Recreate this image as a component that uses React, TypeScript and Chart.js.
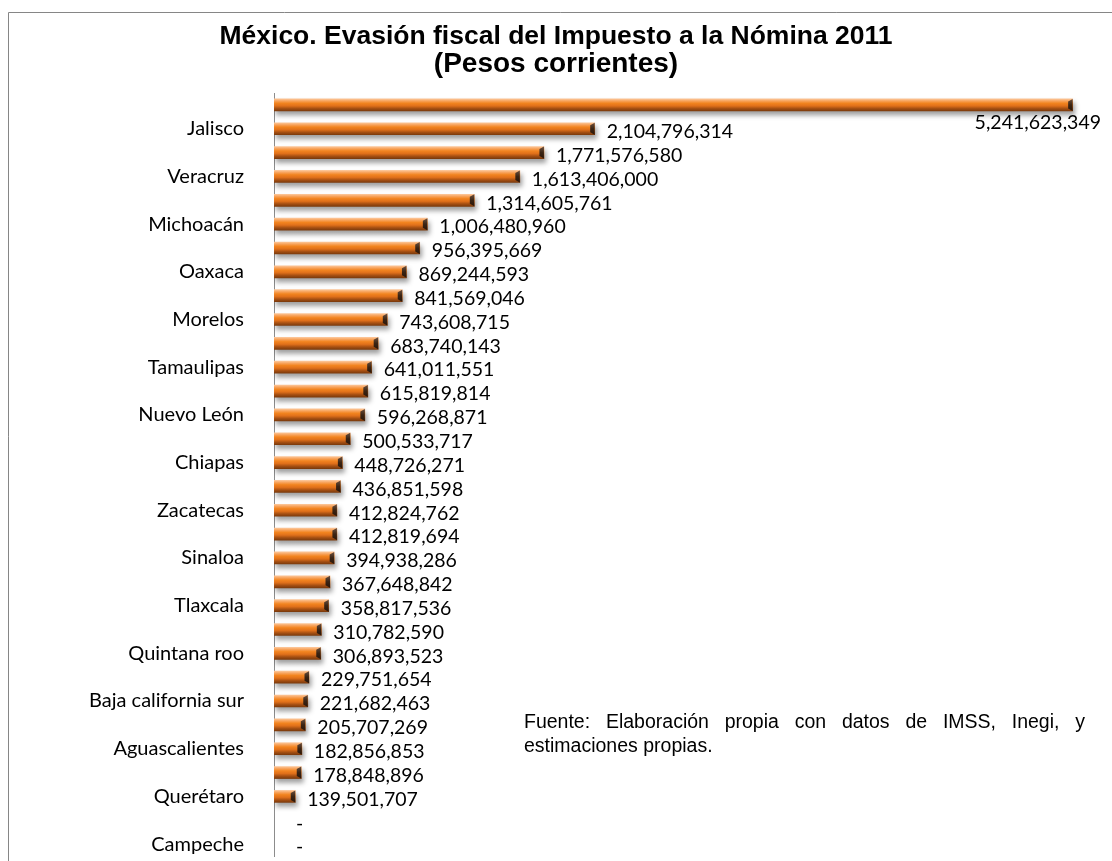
import React, { useEffect, useRef } from 'react';
import { Chart, registerables } from 'chart.js';

Chart.register(...registerables);

const TITLE_LINES = ['México. Evasión fiscal del Impuesto a la Nómina 2011', '(Pesos corrientes)'];
const SOURCE_LINES = ['Fuente: Elaboración propia con datos de IMSS, Inegi, y', 'estimaciones propias.'];

// Only every other state name is printed on the axis in the original.
const states = [
  '', 'Jalisco', '', 'Veracruz', '', 'Michoacán', '', 'Oaxaca', '', 'Morelos',
  '', 'Tamaulipas', '', 'Nuevo León', '', 'Chiapas', '', 'Zacatecas', '', 'Sinaloa',
  '', 'Tlaxcala', '', 'Quintana roo', '', 'Baja california sur', '', 'Aguascalientes', '', 'Querétaro',
  '', 'Campeche',
];

const evasion = [
  5241623349, 2104796314, 1771576580, 1613406000, 1314605761, 1006480960, 956395669, 869244593,
  841569046, 743608715, 683740143, 641011551, 615819814, 596268871, 500533717, 448726271,
  436851598, 412824762, 412819694, 394938286, 367648842, 358817536, 310782590, 306893523,
  229751654, 221682463, 205707269, 182856853, 178848896, 139501707, 0, 0,
];

const W = 1112;
const H = 861;
const LABEL_FONT = '19.5px Lato';

const decorPlugin = {
  id: 'decor',
  beforeDraw(chart: any) {
    const ctx = chart.ctx;
    ctx.save();
    ctx.fillStyle = '#ffffff';
    ctx.fillRect(0, 0, W, H);
    ctx.strokeStyle = '#868686';
    ctx.lineWidth = 1;
    ctx.beginPath();
    ctx.moveTo(8.5, H);
    ctx.lineTo(8.5, 12.5);
    ctx.lineTo(W, 12.5);
    ctx.stroke();
    ctx.restore();
  },
  afterDraw(chart: any) {
    const ctx = chart.ctx;
    ctx.save();
    ctx.fillStyle = '#000000';
    ctx.textAlign = 'center';
    ctx.textBaseline = 'middle';
    ctx.font = 'bold 26.5px "Liberation Sans", Arial, sans-serif';
    ctx.fillText(TITLE_LINES[0], 556, 37);
    ctx.font = 'bold 28px "Liberation Sans", Arial, sans-serif';
    ctx.fillText(TITLE_LINES[1], 556, 64);

    // source note, first line justified
    ctx.font = '19.5px "Liberation Sans", Arial, sans-serif';
    ctx.textAlign = 'left';
    const left = 524;
    const right = 1085;
    const words = SOURCE_LINES[0].split(' ');
    const wordsW = words.reduce((s, w) => s + ctx.measureText(w).width, 0);
    const gap = (right - left - wordsW) / (words.length - 1);
    let x = left;
    words.forEach((w) => {
      ctx.fillText(w, x, 723);
      x += ctx.measureText(w).width + gap;
    });
    ctx.fillText(SOURCE_LINES[1], left, 747);
    ctx.restore();
  },
};

const shadowPlugin = {
  id: 'barShadow',
  beforeDatasetDraw(chart: any) {
    const ctx = chart.ctx;
    ctx.save();
    ctx.shadowColor = 'rgba(0,0,0,0.38)';
    ctx.shadowBlur = 5;
    ctx.shadowOffsetX = 2;
    ctx.shadowOffsetY = 4;
  },
  afterDatasetDraw(chart: any) {
    chart.ctx.restore();
  },
};

const capsAndLabels = {
  id: 'capsAndLabels',
  afterDatasetsDraw(chart: any) {
    const ctx = chart.ctx;
    const meta = chart.getDatasetMeta(0);
    ctx.save();
    meta.data.forEach((el: any, i: number) => {
      const v = evasion[i];
      const xe = el.x;
      const yc = el.y;
      const h = el.height;
      if (!isFinite(xe) || !isFinite(yc)) return;
      if (v > 0) {
        const top = yc - h / 2;
        const bot = yc + h / 2;
        const g = ctx.createLinearGradient(0, top, 0, bot);
        g.addColorStop(0, '#6b5140');
        g.addColorStop(0.5, '#3a2414');
        g.addColorStop(1, '#2a1608');
        ctx.fillStyle = g;
        ctx.beginPath();
        ctx.moveTo(xe - 4.5, top + 2.5);
        ctx.lineTo(xe, top);
        ctx.lineTo(xe, bot);
        ctx.lineTo(xe - 4.5, bot - 2.5);
        ctx.closePath();
        ctx.fill();
      }
      ctx.font = LABEL_FONT;
      ctx.fillStyle = '#000000';
      ctx.textBaseline = 'middle';
      ctx.textAlign = 'left';
      if (v === 0) {
        ctx.fillText('-', chart.chartArea.left + 22, yc + 3);
        return;
      }
      const txt = v.toLocaleString('en-US');
      const tw = ctx.measureText(txt).width;
      let tx = xe + 12;
      let ty = yc + 3;
      if (tx + tw > W - 8) {
        tx = W - 11 - tw;
        ty = yc + 18;
      }
      ctx.fillText(txt, tx, ty);
    });
    ctx.restore();
  },
};

function barGradient(c: any) {
  const chart = c.chart;
  const ys = chart.scales && chart.scales.y;
  if (c.raw === 0) return 'rgba(0,0,0,0)';
  if (!ys || c.dataIndex === undefined) return '#f0801e';
  const yc = ys.getPixelForValue(c.dataIndex);
  if (!isFinite(yc)) return '#f0801e';
  const g = chart.ctx.createLinearGradient(0, yc - 6, 0, yc + 6);
  g.addColorStop(0, '#fcc597');
  g.addColorStop(0.18, '#f7a158');
  g.addColorStop(0.36, '#f2841f');
  g.addColorStop(0.58, '#e0701a');
  g.addColorStop(0.8, '#a54f12');
  g.addColorStop(1, '#7d3b0c');
  return g;
}

export default function App() {
  const ref = useRef<HTMLCanvasElement | null>(null);

  useEffect(() => {
    if (!ref.current) return;
    const chart = new Chart(ref.current, {
      type: 'bar',
      data: {
        labels: states,
        datasets: [
          {
            data: evasion,
            backgroundColor: barGradient,
            borderWidth: 0,
            barThickness: 12,
          },
        ],
      },
      options: {
        indexAxis: 'y',
        animation: false,
        responsive: false,
        devicePixelRatio: 1,
        layout: { padding: { top: 93, bottom: 5, left: 0, right: 0 } },
        plugins: {
          legend: { display: false },
          title: { display: false },
          tooltip: { enabled: false },
        },
        scales: {
          x: { display: false, min: 0, max: 5.5e9 },
          y: {
            grid: { display: false, drawTicks: false },
            border: { display: true, color: '#8c8c8c', width: 1 },
            ticks: {
              autoSkip: false,
              padding: 30,
              color: '#000000',
              font: { family: 'Lato', size: 20 },
            },
            afterFit: (s: any) => {
              s.width = 274;
              s.paddingTop = 0;
              s.paddingBottom = 0;
            },
          },
        },
      },
      plugins: [decorPlugin, shadowPlugin, capsAndLabels],
    } as any);
    return () => chart.destroy();
  }, []);

  return (
    <div style={{ position: 'absolute', left: 0, top: 0, width: W, height: H }}>
      <canvas ref={ref} width={W} height={H} style={{ display: 'block', width: W, height: H }} />
    </div>
  );
}
